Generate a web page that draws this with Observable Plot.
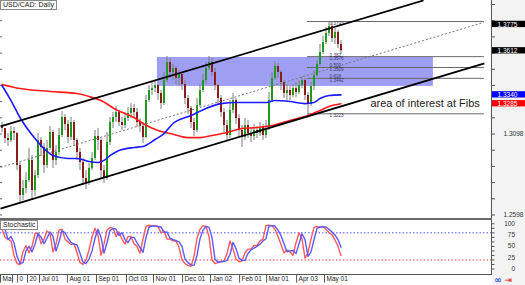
<!DOCTYPE html>
<html><head><meta charset="utf-8">
<script src="https://cdn.jsdelivr.net/npm/d3@7"></script>
<script src="https://cdn.jsdelivr.net/npm/@observablehq/plot@0.6"></script>
<style>
body{margin:0;background:#fff;}
#wrap{position:relative;width:525px;height:285px;overflow:hidden;background:#fff;font-family:"Liberation Sans",Arial,sans-serif;}
.abs{position:absolute;}
.abs svg{display:block;}
.lbl{position:absolute;background:#fff;border:1px solid #8a8a8a;font-size:7px;line-height:8px;padding:0 2px;color:#222;white-space:nowrap;}
.line{position:absolute;}
</style></head><body><div id="wrap"></div>
<script>
// ---------- data ----------
const opens=[1.3150,1.3132,1.3070,1.3058,1.3113,1.3101,1.2903,1.2718,1.2761,1.2811,
1.2935,1.2749,1.2842,1.3058,1.3015,1.2903,1.3008,1.3107,1.2935,1.2984,
1.3089,1.3200,1.3157,1.3076,1.3169,1.3058,1.2984,1.2922,1.2823,1.2792,
1.2885,1.2947,1.3083,1.3058,1.2872,1.2823,1.3045,1.3169,1.3200,1.3231,
1.3169,1.3151,1.3194,1.3225,1.3256,1.3231,1.3169,1.3144,1.3076,1.3305,
1.3367,1.3379,1.3398,1.3348,1.3286,1.3429,1.3540,1.3478,1.3503,1.3441,
1.3466,1.3404,1.3317,1.3256,1.3169,1.3120,1.3274,1.3367,1.3429,1.3503,
1.3540,1.3478,1.3398,1.3317,1.3231,1.3151,1.3089,1.3243,1.3305,1.3194,
1.3120,1.3076,1.3151,1.3101,1.3083,1.3120,1.3101,1.3138,1.3089,1.3132,
1.3305,1.3441,1.3515,1.3478,1.3416,1.3348,1.3367,1.3336,1.3379,1.3354,
1.3398,1.3429,1.3336,1.3280,1.3392,1.3460,1.3527,1.3602,1.3663,1.3719,
1.3762,1.3688,1.3725,1.3651];
const highs=[1.3169,1.3132,1.3101,1.3144,1.3138,1.3107,1.2922,1.2811,1.2860,1.3008,
1.2965,1.2872,1.3101,1.3076,1.3039,1.3058,1.3144,1.3120,1.3027,1.3132,
1.3237,1.3218,1.3182,1.3200,1.3182,1.3070,1.3008,1.2947,1.2872,1.2916,
1.2984,1.3120,1.3132,1.3070,1.2903,1.3107,1.3200,1.3231,1.3268,1.3243,
1.3200,1.3231,1.3262,1.3286,1.3280,1.3256,1.3194,1.3169,1.3336,1.3398,
1.3416,1.3429,1.3404,1.3367,1.3478,1.3577,1.3565,1.3527,1.3515,1.3490,
1.3466,1.3429,1.3336,1.3268,1.3194,1.3317,1.3404,1.3466,1.3540,1.3577,
1.3565,1.3503,1.3404,1.3336,1.3256,1.3182,1.3305,1.3348,1.3317,1.3218,
1.3151,1.3194,1.3182,1.3132,1.3157,1.3144,1.3169,1.3157,1.3182,1.3354,
1.3478,1.3540,1.3534,1.3490,1.3429,1.3404,1.3392,1.3404,1.3416,1.3429,
1.3453,1.3441,1.3354,1.3416,1.3490,1.3552,1.3651,1.3700,1.3756,1.3793,
1.3787,1.3750,1.3738,1.3676];
const lows=[1.3107,1.3039,1.3021,1.3045,1.3058,1.2872,1.2662,1.2687,1.2730,1.2798,
1.2687,1.2712,1.2823,1.2959,1.2854,1.2885,1.2996,1.2885,1.2903,1.2965,
1.3076,1.3120,1.3039,1.3058,1.3021,1.2935,1.2872,1.2780,1.2755,1.2780,
1.2872,1.2935,1.2996,1.2823,1.2792,1.2811,1.3027,1.3132,1.3169,1.3144,
1.3120,1.3132,1.3175,1.3194,1.3194,1.3138,1.3107,1.3039,1.3070,1.3293,
1.3336,1.3354,1.3305,1.3249,1.3274,1.3416,1.3441,1.3429,1.3404,1.3392,
1.3367,1.3280,1.3218,1.3132,1.3083,1.3107,1.3262,1.3354,1.3404,1.3490,
1.3453,1.3367,1.3280,1.3200,1.3107,1.3052,1.3070,1.3225,1.3157,1.3083,
1.3015,1.3058,1.3070,1.3045,1.3058,1.3070,1.3083,1.3058,1.3070,1.3120,
1.3293,1.3429,1.3441,1.3367,1.3317,1.3305,1.3305,1.3324,1.3324,1.3342,
1.3379,1.3305,1.3223,1.3268,1.3367,1.3453,1.3515,1.3589,1.3651,1.3700,
1.3663,1.3651,1.3626,1.3589];
const closes=[1.3132,1.3070,1.3058,1.3113,1.3101,1.2903,1.2718,1.2761,1.2811,1.2935,
1.2749,1.2842,1.3058,1.3015,1.2903,1.3008,1.3107,1.2935,1.2984,1.3089,
1.3200,1.3157,1.3076,1.3169,1.3058,1.2984,1.2922,1.2823,1.2792,1.2885,
1.2947,1.3083,1.3058,1.2872,1.2823,1.3045,1.3169,1.3200,1.3231,1.3169,
1.3151,1.3194,1.3225,1.3256,1.3231,1.3169,1.3144,1.3076,1.3305,1.3367,
1.3379,1.3398,1.3348,1.3286,1.3429,1.3540,1.3478,1.3503,1.3441,1.3466,
1.3404,1.3317,1.3256,1.3169,1.3120,1.3274,1.3367,1.3429,1.3503,1.3540,
1.3478,1.3398,1.3317,1.3231,1.3151,1.3089,1.3243,1.3305,1.3194,1.3120,
1.3076,1.3151,1.3101,1.3083,1.3120,1.3101,1.3138,1.3089,1.3132,1.3305,
1.3441,1.3515,1.3478,1.3416,1.3348,1.3367,1.3336,1.3379,1.3354,1.3398,
1.3429,1.3336,1.3280,1.3392,1.3460,1.3527,1.3602,1.3663,1.3719,1.3762,
1.3688,1.3725,1.3651,1.3612];

// moving averages (bar index, price)
const blueMaIdx=[0,3,6,11,14,17,22,25,29,32,34,36,39,44,47,51,54,57,63,68,73,78,83,88,91,96,101,104,106,109,113];
const blueMaVal=[1.3398,1.3305,1.3200,1.3070,1.3008,1.2965,1.2947,1.2947,1.2928,1.2922,1.2935,1.2965,1.2996,1.3015,1.3021,1.3064,1.3101,1.3163,1.3212,1.3256,1.3286,1.3293,1.3293,1.3293,1.3305,1.3299,1.3286,1.3293,1.3317,1.3336,1.3340];
const redMaIdx=[0,6,16,25,29,33,38,44,47,52,56,62,66,70,75,80,85,90,96,102,106,109,113];
const redMaVal=[1.3404,1.3379,1.3361,1.3348,1.3330,1.3305,1.3249,1.3200,1.3163,1.3120,1.3101,1.3076,1.3076,1.3089,1.3107,1.3132,1.3138,1.3151,1.3182,1.3212,1.3243,1.3268,1.3285];

// stochastic (one value per bar)
const stochSignal=[92,88,65,72,58,28,12,14,40,50,
38,55,78,71,56,68,82,72,40,60,
85,80,68,59,55,53,35,15,12,22,
40,68,88,70,35,58,85,90,88,74,
80,65,58,70,70,58,48,37,70,93,
95,95,94,93,81,82,68,65,63,60,
50,22,14,9,8,30,67,86,94,92,
70,22,15,16,17,19,32,59,45,24,
19,19,35,42,46,50,55,62,67,95,
96,95,86,74,56,38,40,41,34,56,
78,65,28,38,65,90,93,93,93,88,
82,75,65,48];
const stochMain=[88,70,66,62,30,12,10,38,52,36,
50,78,80,56,66,84,78,38,55,86,
88,66,60,54,56,36,14,10,20,42,
70,90,75,30,55,86,92,90,72,82,
66,55,72,72,56,50,35,66,94,97,
96,95,94,80,84,66,66,62,62,48,
20,12,8,6,28,68,88,96,94,72,
20,12,14,16,18,34,62,44,22,16,
18,36,44,44,52,52,62,66,96,97,
96,88,72,54,36,42,38,30,58,80,
66,24,36,66,92,94,92,94,88,80,
76,64,50,30];
const stochLevels=[80,20];

// channel trend lines (bar index, price)
const channelX1=[-0.5,-0.5,-0.5];
const channelY1=[1.3145,1.2638,1.2892];
const channelX2=[140.5,160.8,160.5];
const channelY2=[1.3923,1.3534,1.3787];

// fibonacci retracement
const fibPrices=[1.3793,1.3576,1.3509,1.3442,1.3223];
const fibRatios=["","0.382","0.500","0.618",""];
const fibBars=[101.8,160.8];
const fibLabelBar=109.2;

// highlighted zone
const zoneBars=[51.8,143.8];
const zonePrices=[1.3392,1.3571];

// annotation
const noteText="area of interest at Fibs";
const noteBar=122.8, notePrice=1.3287;

// axes
const priceTicks=[1.2598,1.2698,1.2798,1.2898,1.2998,1.3098,1.3198,1.3298,1.3398,1.3498,1.3598,1.3698,1.3798,1.3898];
const priceLabels=[1.3098,1.2598];
const priceBoxes=[1.3775,1.3612,1.3340,1.3285];
const priceBoxColors=["#000000","#000000","#0000ff","#ff0000"];
const stochTicks=[0,10,20,30,40,50,60,70,80,90,100];
const stochLabels=[100,75,50,25,0];
const dateLabels=["Ma","","0","20","Jul 01","Aug 01","Sep 01","Oct 03","Nov 01","Dec 01","Jan 02","Feb 01","Mar 01","Apr 03","May 01"];
const datePos=[-0.5,3.5,5.2,8.5,12.5,21.8,31.5,41.5,50.5,60.2,69.5,79.2,88.2,98.2,107.5];

// ---------- build ----------
const wrap=document.getElementById("wrap");
const FONT='"Liberation Sans", Arial, sans-serif';
const xDomain=[-0.5,163.5];
const yDomain=[1.25702,1.39227];
const sDomain=[-13.3,109.5];
const bars=closes.map((c,i)=>({i,o:opens[i],h:highs[i],l:lows[i],c}));
const upBars=bars.filter(d=>d.c>=d.o), dnBars=bars.filter(d=>d.c<d.o);
const blueMa=blueMaIdx.map((i,k)=>({i,v:blueMaVal[k]}));
const redMa=redMaIdx.map((i,k)=>({i,v:redMaVal[k]}));
const channels=channelX1.map((x,k)=>({x1:x,y1:channelY1[k],x2:channelX2[k],y2:channelY2[k]}));
const fib=fibPrices.map((p,k)=>({p,r:fibRatios[k],t:p.toFixed(4)}));
const zone={x1:zoneBars[0],x2:zoneBars[1],y1:zonePrices[0],y2:zonePrices[1]};
const dates=dateLabels.map((t,k)=>({t,p:datePos[k]}));
const style={fontFamily:FONT,background:"transparent",overflow:"visible"};

function place(el,left,top){const d=document.createElement("div");d.className="abs";d.style.left=left+"px";d.style.top=top+"px";d.appendChild(el);wrap.appendChild(d);return d;}
function box(left,top,w,h,bg){const d=document.createElement("div");d.className="line";Object.assign(d.style,{left:left+"px",top:top+"px",width:w+"px",height:h+"px",background:bg});wrap.appendChild(d);}

box(492,0,33,285,"#f3f3f3");

const main=Plot.plot({
  width:492,height:219,marginTop:0,marginBottom:0,marginLeft:0,marginRight:0,
  x:{domain:xDomain,axis:null},y:{domain:yDomain,axis:null},style,
  marks:[
    Plot.rect([zone],{x1:"x1",x2:"x2",y1:"y1",y2:"y2",fill:"#9e9ef2"}),
    Plot.ruleY(priceTicks,{y:d=>d,x1:()=>xDomain[0],x2:()=>xDomain[0]+0.7,stroke:"#666"}),
    Plot.ruleY(fib,{y:"p",x1:()=>fibBars[0],x2:()=>fibBars[1],stroke:"#6a6a6a",strokeWidth:1}),
    Plot.text(fib.filter(d=>d.r),{x:()=>fibLabelBar,y:"p",text:"r",lineAnchor:"bottom",dy:0,textAnchor:"start",fontSize:4.6,fill:"#3b3b5c"}),
    Plot.text(fib,{x:()=>fibLabelBar,y:"p",text:"t",lineAnchor:"top",dy:0.2,textAnchor:"start",fontSize:4.6,fill:"#3b3b5c"}),
    Plot.ruleX(bars,{x:"i",y1:"l",y2:"h",stroke:"#7d7d7d",strokeWidth:1}),
    Plot.ruleX(upBars,{x:"i",y1:"o",y2:"c",stroke:"#1e9b1e",strokeWidth:2}),
    Plot.ruleX(dnBars,{x:"i",y1:"c",y2:"o",stroke:"#8c1c1c",strokeWidth:2}),
    Plot.line(redMa,{x:"i",y:"v",stroke:"#ff1a1a",strokeWidth:1.6,curve:"monotone-x"}),
    Plot.line(blueMa,{x:"i",y:"v",stroke:"#1a1aff",strokeWidth:1.6,curve:"monotone-x"}),
    Plot.link(channels.slice(0,2),{x1:"x1",y1:"y1",x2:"x2",y2:"y2",stroke:"#000",strokeWidth:1.8}),
    Plot.link(channels.slice(2),{x1:"x1",y1:"y1",x2:"x2",y2:"y2",stroke:"#777",strokeWidth:1,strokeDasharray:"2,2"}),
    Plot.text([noteText],{x:()=>noteBar,y:()=>notePrice,text:d=>d,textAnchor:"start",fontSize:11,fill:"#222"})
  ]
});
place(main,0,0);

const pAxis=Plot.plot({
  width:33,height:219,margin:0,
  x:{domain:[0,33],axis:null},y:{domain:yDomain,axis:null},style,
  marks:[
    Plot.ruleY(priceTicks,{y:d=>d,x1:()=>0,x2:()=>3,stroke:"#555"}),
    Plot.text(priceLabels,{x:()=>11,y:d=>d,text:d=>d.toFixed(4),textAnchor:"start",fontSize:6.5,fill:"#333"}),
    ...priceBoxes.map((p,k)=>Plot.rect([p],{x1:()=>0,x2:()=>33,y1:d=>d-0.00195,y2:d=>d+0.00195,fill:priceBoxColors[k]})),
    Plot.text(priceBoxes,{x:()=>5,y:d=>d,text:d=>d.toFixed(4),textAnchor:"start",fontSize:6.5,fill:"#fff"})
  ]
});
place(pAxis,492,0);

const stoch=Plot.plot({
  width:492,height:66,marginTop:0,marginBottom:10.5,marginLeft:0,marginRight:0,
  x:{domain:xDomain,axis:null},y:{domain:sDomain,axis:null},style,
  marks:[
    Plot.ruleY([stochLevels[0]],{stroke:"#5050ff",strokeDasharray:"1.5,2"}),
    Plot.ruleY([stochLevels[1]],{stroke:"#ff4545",strokeDasharray:"1.5,2"}),
    Plot.line(stochMain,{x:(d,i)=>i,y:d=>d,stroke:"#ff5a5a",strokeWidth:1.4}),
    Plot.line(stochSignal,{x:(d,i)=>i,y:d=>d,stroke:"#5a5aff",strokeWidth:1.4}),
    Plot.ruleX(dates,{x:"p",y1:()=>sDomain[0],y2:()=>sDomain[0]-18,stroke:"#555"}),
    Plot.text(dates,{x:"p",text:"t",frameAnchor:"bottom",dy:6,dx:2,textAnchor:"start",fontSize:6.5,fill:"#222"})
  ]
});
place(stoch,0,219);

const sAxis=Plot.plot({
  width:33,height:55.5,margin:0,
  x:{domain:[0,33],axis:null},y:{domain:sDomain,axis:null},style,
  marks:[
    Plot.ruleY(stochTicks,{y:d=>d,x1:()=>0,x2:()=>2.5,stroke:"#555"}),
    Plot.text(stochLabels,{x:()=>22.5,y:d=>d,text:d=>String(d),textAnchor:"end",fontSize:6.5,fill:"#333"})
  ]
});
place(sAxis,492,219);

// frame lines
box(491,0,1,275,"#555");
box(0,218,492,2,"#6a6a6a");
box(0,274,492,1,"#555");

// captions
const t1=document.createElement("div");t1.className="lbl";t1.style.left="0px";t1.style.top="0px";t1.textContent="USD/CAD: Daily";wrap.appendChild(t1);
const t2=document.createElement("div");t2.className="lbl";t2.style.left="0px";t2.style.top="220px";t2.textContent="Stochastic";wrap.appendChild(t2);
const ic=document.createElement("div");ic.style.cssText="position:absolute;left:494px;top:276px;font-size:9px;line-height:9px;white-space:nowrap;font-family:'DejaVu Sans',sans-serif";
ic.innerHTML='<span style="color:#3355dd;font-weight:bold">∞</span> <span style="color:#e01010">⇥</span>';
wrap.appendChild(ic);
</script></body></html>
